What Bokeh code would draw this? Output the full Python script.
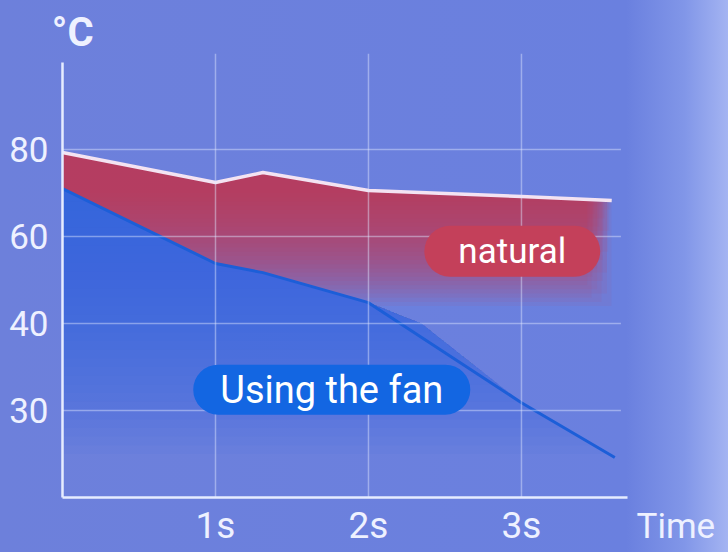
import numpy as np
from bokeh.plotting import figure
from bokeh.models import FixedTicker, Label
from bokeh.embed import file_html
from bokeh.resources import INLINE

# ---- data ----
natural_t = [0.0, 1.0, 1.31, 2.0, 3.0, 3.59]
natural_c = [79.3, 72.4, 74.7, 70.6, 69.2, 68.3]
fan_t = [0.0, 1.0, 1.31, 2.0, 3.0, 3.61]
fan_c = [71.0, 53.8, 51.7, 44.8, 30.9, 24.6]
x_ticks = [1, 2, 3]
x_tick_labels = ["1s", "2s", "3s"]
y_tick_temps = [30, 40, 60, 80]

# axis of the picture is not linear in °C: ticks are evenly spaced
scale_temps = [20, 30, 40, 60, 80, 100]
scale_pos = [0, 1, 2, 3, 4, 5]


def to_pos(c):
    return np.interp(c, scale_temps, scale_pos)


y_tick_pos = [float(to_pos(c)) for c in y_tick_temps]

X_END = 3.69   # end of the time axis line
Y_END = 5.0    # top of the temperature axis line

FONT = "Roboto"
TXT = "#eef1ff"

p = figure(width=712, height=544, x_range=(-0.353, 4.301), y_range=(-0.632, 5.621),
           output_backend="svg", toolbar_location=None,
           min_border_left=0, min_border_right=0, min_border_top=0,
           min_border_bottom=0)
p.background_fill_alpha = 0
p.border_fill_alpha = 0
p.outline_line_color = None
p.xgrid.visible = False
p.ygrid.visible = False

# grid lines drawn at the tick positions
GRID = dict(line_color="#dfe6ff", line_alpha=0.45, line_width=1.5)
p.segment(x0=x_ticks, y0=[0] * len(x_ticks), x1=x_ticks,
          y1=[Y_END + 0.1] * len(x_ticks), level="guide", **GRID)
p.segment(x0=[0] * len(y_tick_pos), y0=y_tick_pos,
          x1=[X_END - 0.04] * len(y_tick_pos), y1=y_tick_pos, level="guide", **GRID)

# fine grid for drawing the fills
xs = np.linspace(0, max(natural_t[-1], fan_t[-1]), 500)
nat_y = to_pos(np.interp(xs, natural_t, natural_c))
fan_y = to_pos(np.interp(xs, fan_t, fan_c))
mask = xs <= natural_t[-1]
xn, natn, fann = xs[mask], nat_y[mask], fan_y[mask]

# blue area under the fan curve: layered vertical gradient
for lvl in np.linspace(0.5, 3.4, 30):
    p.varea(x=xs, y1=np.minimum(lvl, fan_y), y2=fan_y,
            fill_color="#2d63d6", fill_alpha=0.058)

# red area between natural and fan curves, fading downwards and at its right end
N_RED = 28
for k, lvl in enumerate(np.linspace(2.2, 3.5, N_RED)):
    xe = natural_t[-1] - 0.16 * ((k * 11) % N_RED) / (N_RED - 1)
    m = xn <= xe
    lo = np.maximum(fann[m], lvl)
    hi = np.maximum(natn[m], lo)
    p.varea(x=xn[m], y1=lo, y2=hi, fill_color="#c23c5a", fill_alpha=0.07)

# curves
p.line(fan_t, [float(to_pos(c)) for c in fan_c], line_color="#1c5ed8",
       line_width=3)
p.line(natural_t, [float(to_pos(c)) for c in natural_c],
       line_color="#f3e3f2", line_width=3.5)

# axes placed at the data origin
for ax in (p.xaxis[0], p.yaxis[0]):
    ax.fixed_location = 0
    ax.axis_line_color = "#e6ecff"
    ax.axis_line_width = 2.5
    ax.major_tick_line_color = None
    ax.minor_tick_line_color = None
    ax.major_label_text_color = TXT
    ax.major_label_text_font = FONT

p.xaxis.bounds = (0, X_END)
p.xaxis.ticker = FixedTicker(ticks=x_ticks)
p.xaxis.major_label_overrides = {t: l for t, l in zip(x_ticks, x_tick_labels)}
p.xaxis.major_label_text_font_size = "37px"
p.xaxis.major_label_standoff = 0

p.yaxis.bounds = (0, Y_END)
p.yaxis.ticker = FixedTicker(ticks=y_tick_pos)
p.yaxis.major_label_overrides = {t: str(c) for t, c in zip(y_tick_pos, y_tick_temps)}
p.yaxis.major_label_text_font_size = "35px"
p.yaxis.major_label_standoff = 8

# pills
p.add_layout(Label(x=2.94, y=2.83, text="natural", text_align="center",
                   text_baseline="middle", text_color="#ffffff",
                   text_font=FONT, text_font_size="35px",
                   background_fill_color="#c4405a", background_fill_alpha=1,
                   border_radius=26, padding=(34, 5)))
p.add_layout(Label(x=1.76, y=1.24, text="Using the fan", text_align="center",
                   text_baseline="middle", text_color="#ffffff",
                   text_font=FONT, text_font_size="38px",
                   background_fill_color="#1366e2", background_fill_alpha=1,
                   border_radius=26, padding=(27, 3)))

# axis titles
p.add_layout(Label(x=-0.07, y=5.08, text="°C", text_color=TXT, text_font=FONT,
                   text_font_size="40px", text_font_style="bold"))
p.add_layout(Label(x=3.752, y=-0.57, text="Time", text_color=TXT, text_font=FONT,
                   text_font_size="35px"))

STYLE = ("<style>html,body{margin:0;padding:0;overflow:hidden;}"
         "body{padding:8px 8px 0 8px;height:552px;box-sizing:border-box;"
         "background:linear-gradient(90deg,#6d80db 0%,"
         "#6a80df 86%,#8196e8 94%,#a4b4f2 100%);}</style>")
open("out.html", "w").write(file_html(p, INLINE).replace("</head>", STYLE + "</head>"))
